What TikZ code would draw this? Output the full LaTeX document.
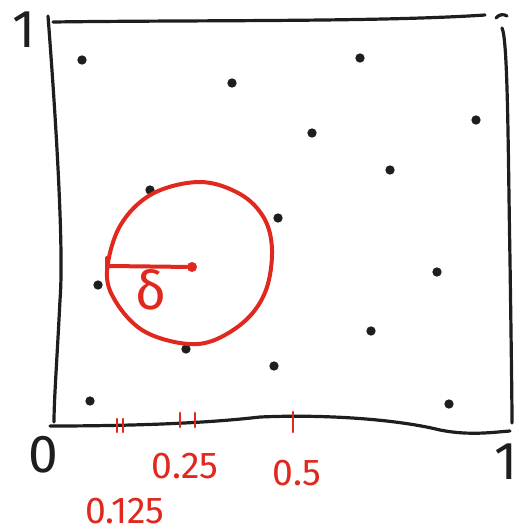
\documentclass[tikz,border=0pt]{standalone}
\usepackage{fontspec}
\setmainfont{Fira Sans}
\definecolor{pen}{RGB}{30,30,30}
\definecolor{redpen}{RGB}{225,40,30}
\begin{document}
\begin{tikzpicture}[x=0.75pt,y=-0.75pt,
  frame/.style={draw=pen,line width=2.4pt,line cap=round,line join=round},
  pt/.style={circle,fill=pen,inner sep=0pt,minimum size=7pt},
  redline/.style={draw=redpen,line width=3pt,line cap=round,line join=round},
  redtick/.style={draw=redpen,line width=2.2pt,line cap=round},
  blab/.style={text=pen,font=\fontsize{40}{44}\selectfont,inner sep=0pt},
  rlab/.style={text=redpen,font=\fontsize{28}{32}\selectfont,inner sep=0pt}]
\useasboundingbox (0,0) rectangle (521,532);
% frame
\draw[frame] (48,16) .. controls (56,120) and (64,250) .. (60,300) .. controls (57,360) and (54,400) .. (54,422);
\draw[frame] (53,22) .. controls (200,20) and (380,22) .. (485,15);
\draw[frame] (496,18) .. controls (499,14) and (504,14) .. (507,16);
\draw[frame] (502,28) .. controls (508,40) and (508,150) .. (510,260) .. controls (511,330) and (512,400) .. (512,423);
\draw[frame] (50,426) .. controls (120,426) and (200,424) .. (260,417) .. controls (330,414) and (400,420) .. (440,430) .. controls (470,436) and (495,432) .. (510,431);
% axis labels
\node[blab] (one) at (24,30) {1};
\node[blab] (zero) at (43,455) {0};
\node[blab] (oneb) at (506,462) {1};
% points
\foreach \n/\x/\y in {a/82/60,b/232/83,c/360/58,d/312/133,e/476/120,f/390/170,g/150/190,h/278/218,i/98/285,j/437/272,k/186/349,l/371/331,m/274/366,n/90/401,o/449/404}
  \node[pt] (\n) at (\x,\y) {};
% red circle
\draw[redline] plot[smooth cycle,tension=0.6] coordinates {(200,182) (240,194) (264,218) (272,250) (266,290) (246,320) (212,341) (180,343) (142,330) (116,302) (107,272) (120,226) (152,194)};
\node[circle,fill=redpen,inner sep=0pt,minimum size=7.5pt] (c0) at (192,267) {};
\coordinate (r0) at (109,266);
\draw[redline] (r0) -- (c0);
\draw[redline] (107,258) -- (107,276);
\node[text=redpen,font=\fontsize{40}{44}\selectfont,inner sep=0pt] (delta) at (151,290) {δ};
% ticks
\coordinate (t1a) at (117,419); \coordinate (t1b) at (117,432);
\coordinate (t2a) at (123,419); \coordinate (t2b) at (123,432);
\coordinate (t3a) at (180,413); \coordinate (t3b) at (180,427);
\coordinate (t4a) at (195,413); \coordinate (t4b) at (195,427);
\coordinate (t5a) at (293,412); \coordinate (t5b) at (293,432);
\draw[redtick] (t1a) -- (t1b);
\draw[redtick] (t2a) -- (t2b);
\draw[redtick] (t3a) -- (t3b);
\draw[redtick] (t4a) -- (t4b);
\draw[redtick] (t5a) -- (t5b);
\node[rlab] (l025) at (185,466) {0.25};
\node[rlab] (l0125) at (125,511) {0.125};
\node[rlab] (l05) at (297,473) {0.5};
\end{tikzpicture}
\end{document}
